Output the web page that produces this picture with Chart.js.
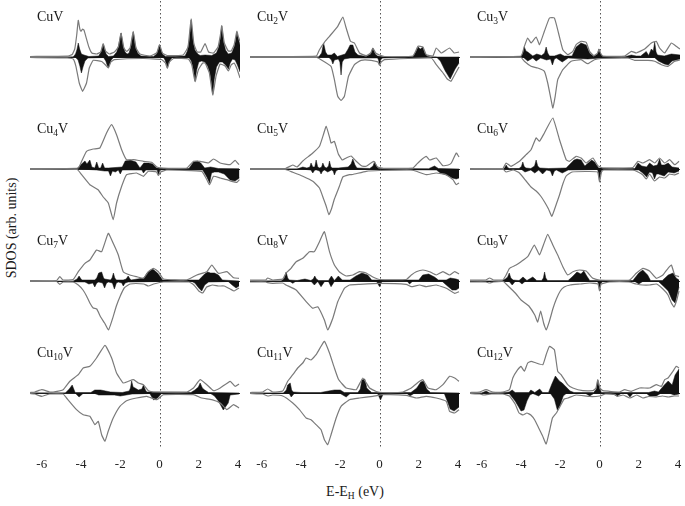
<!DOCTYPE html>
<html>
<head>
<meta charset="utf-8">
<script src="https://cdn.jsdelivr.net/npm/chart.js@4.4.1/dist/chart.umd.min.js"></script>
<style>
  html,body{margin:0;padding:0;background:#fff;}
  #wrap{position:relative;width:685px;height:506px;overflow:hidden;background:#fff;font-family:"Liberation Serif","DejaVu Serif",serif;color:#1a1a1a;}
  canvas{position:absolute;}
  .lbl{position:absolute;font-size:14px;line-height:14px;white-space:nowrap;}
  .lbl sub{font-size:9.5px;line-height:0;vertical-align:-3px;}
  #ytitle{position:absolute;left:12px;top:228px;font-size:14px;white-space:nowrap;transform:translate(-50%,-50%) rotate(-90deg);}
  #xtitle{position:absolute;left:355px;top:492px;font-size:14px;white-space:nowrap;transform:translate(-50%,-50%);}
  #xtitle sub{font-size:9.5px;line-height:0;vertical-align:-3px;}
</style>
</head>
<body>
<div id="wrap">
  <div id="ytitle">SDOS (arb. units)</div>
  <div id="xtitle">E-E<sub>H</sub> (eV)</div>
</div>
<script>
// ---------- axis / label data ----------
const energyTicks = [-6, -4, -2, 0, 2, 4];
const energyMin = -6.6, energyMax = 4.1;
const clusterSizes = [1, 2, 3, 4, 5, 6, 7, 8, 9, 10, 11, 12];

// ---------- series: [energy (eV), SDOS (arb.)]; up spin > 0, down spin < 0 ----------
const cu1_upTotal = [[-6.6,0.5],[-4.7,0.8],[-4.45,2.5],[-4.32,8],[-4.22,22],[-4.14,36.7],[-4.06,28],[-4.0,25.7],[-3.92,28],[-3.85,27],[-3.72,18],[-3.6,10],[-3.45,4],[-3.2,3],[-3.0,5],[-2.87,13.3],[-2.75,6],[-2.55,3],[-2.3,5],[-2.1,10],[-1.96,24],[-1.82,9],[-1.68,5.5],[-1.5,9],[-1.34,25.7],[-1.2,9],[-1.0,3],[-0.5,1],[-0.15,4],[0,12.3],[0.15,4],[0.4,1.5],[1.2,2],[1.45,10],[1.61,38],[1.75,13],[1.92,5],[2.1,5],[2.32,13.3],[2.5,5],[2.75,4],[2.98,10],[3.1,22],[3.17,31.3],[3.3,14],[3.5,6],[3.65,6],[3.8,12],[3.94,25.7],[4.02,20],[4.1,15.7]];
const cu1_upV = [[-6.6,0],[-4.4,0],[-4.28,3],[-4.2,8],[-4.14,14],[-4.07,8],[-3.98,3],[-3.85,2],[-3.6,0.5],[-3.1,1],[-2.98,5],[-2.92,9],[-2.87,13],[-2.8,8],[-2.72,3],[-2.6,0.5],[-2.35,1],[-2.18,5],[-2.08,12],[-1.96,24],[-1.86,12],[-1.76,5],[-1.65,3],[-1.55,4],[-1.45,11],[-1.34,25],[-1.24,12],[-1.12,4],[-0.95,1],[-0.3,0.5],[-0.15,3],[-0.07,7],[0,12],[0.07,7],[0.15,3],[0.3,0.5],[1.3,1],[1.42,6],[1.52,17],[1.61,37],[1.7,18],[1.8,7],[1.95,3],[2.07,1.5],[2.32,2],[2.66,1.5],[2.9,4],[3.02,10],[3.1,19],[3.17,31],[3.25,17],[3.36,7],[3.5,3],[3.68,4],[3.8,10],[3.88,17],[3.94,25],[4.02,18],[4.1,12]];
const cu1_downTotal = [[-6.6,-0.5],[-4.7,-0.8],[-4.4,-2],[-4.26,-9.3],[-4.09,-26],[-3.92,-34.3],[-3.72,-26],[-3.58,-11],[-3.38,-3.3],[-2.95,-4.5],[-2.75,-8],[-2.61,-11],[-2.48,-5],[-2.3,-2.7],[-0.82,-1.5],[0.1,-2.5],[0.3,-6],[0.40,-11.5],[0.5,-5],[0.71,-1.5],[1.47,-2],[1.64,-7.7],[1.81,-24.5],[1.98,-12.7],[2.2,-6],[2.32,-6],[2.54,-16],[2.71,-38],[2.88,-19],[3.09,-7],[3.34,-9],[3.51,-14],[3.65,-8],[3.8,-6],[3.95,-12],[4.1,-21]];
const cu1_downV = [[-6.6,0],[-4.3,0],[-4.15,-3],[-4.06,-9],[-3.98,-16],[-3.9,-10],[-3.8,-4],[-3.65,-1],[-2.85,-0.5],[-2.74,-4],[-2.67,-8],[-2.61,-11],[-2.54,-7],[-2.46,-3],[-2.35,-0.5],[0.2,-0.5],[0.28,-3],[0.35,-7],[0.40,-11],[0.46,-7],[0.54,-3],[0.65,-0.5],[1.5,-0.5],[1.62,-4],[1.72,-12],[1.81,-24],[1.89,-13],[2.0,-5],[2.15,-4],[2.3,-5],[2.45,-9],[2.55,-15],[2.63,-24],[2.71,-37],[2.79,-22],[2.9,-10],[3.05,-5],[3.2,-5],[3.36,-8],[3.44,-10],[3.51,-12],[3.6,-6],[3.72,-2],[3.85,-3],[3.97,-8],[4.1,-15]];

const cu2_upTotal = [[-6.6,0.5],[-3.23,0.8],[-3.06,7.3],[-2.81,14.7],[-2.55,20.7],[-2.13,30.7],[-1.87,40],[-1.70,29],[-1.48,15.7],[-1.28,14],[-1.02,4],[-0.68,1.3],[-0.45,4],[-0.34,9],[-0.2,4],[0,2],[0.26,0.5],[1.70,1],[1.96,10.7],[2.21,10],[2.38,2.3],[2.72,1],[2.89,9],[3.15,4],[3.57,9],[3.8,4],[4.05,5]];
const cu2_upV = [[-6.6,0],[-3.1,0],[-2.95,4],[-2.85,14],[-2.75,5],[-2.65,2],[-2.45,2],[-2.3,4],[-2.15,0.5],[-1.75,3],[-1.6,8],[-1.5,12],[-1.36,12],[-1.25,5],[-1.1,2],[-0.68,0.5],[-0.45,3],[-0.34,9],[-0.22,3],[-0.1,1],[0.3,0],[1.7,0.5],[1.85,5],[1.96,10],[2.08,8],[2.21,10],[2.3,4],[2.45,0.5],[2.6,0],[4.05,0]];
const cu2_downTotal = [[-6.6,-0.5],[-3.2,-0.5],[-2.98,-2.7],[-2.47,-9.3],[-2.30,-22.7],[-2.13,-39.3],[-1.96,-43.3],[-1.79,-39.3],[-1.58,-19.3],[-1.28,-7.7],[-0.94,-3.3],[-0.43,-3.3],[-0.08,-5],[0,-8.5],[0.08,-5],[0.26,-2.7],[2.64,-1],[2.89,-7.7],[3.2,-15],[3.45,-22],[3.64,-24.3],[3.85,-17],[4.05,-10]];
const cu2_downV = [[-6.6,0],[-2.6,0],[-2.45,-3],[-2.38,-7],[-2.3,-3],[-2.1,-2],[-2.02,-5],[-1.96,-18],[-1.9,-5],[-1.8,-2],[-1.5,-1],[-0.1,-1],[-0.05,-3],[0,-8],[0.05,-3],[0.15,-1],[2.9,0],[3.1,-4],[3.35,-14],[3.6,-22],[3.85,-12],[4.05,-6]];

const cu3_upTotal = [[-6.6,0.5],[-4.0,1],[-3.83,10.7],[-3.66,19],[-3.49,14],[-3.23,20],[-3.06,12.3],[-2.81,25.7],[-2.55,39],[-2.30,39],[-2.09,24],[-1.87,7.3],[-1.62,2.3],[-1.36,5.7],[-1.19,12.3],[-0.94,15.7],[-0.68,14.7],[-0.51,5.7],[-0.29,1.3],[-0.1,4],[-0.03,8],[0.05,4],[0.17,1],[1.28,1],[1.62,5.7],[1.87,4],[2.30,8],[2.64,14],[2.89,15.7],[3.06,9],[3.32,4],[3.66,14],[3.91,10.7],[4.1,8]];
const cu3_upV = [[-6.6,0],[-4.0,0.5],[-3.9,4],[-3.83,10],[-3.75,6],[-3.66,5],[-3.4,1],[-3.2,3],[-2.95,1.5],[-2.8,4],[-2.72,10],[-2.64,4],[-2.55,1],[-2.3,1],[-2.0,3],[-1.8,1],[-1.4,1],[-1.19,10],[-0.94,14],[-0.68,12],[-0.51,4],[-0.3,0.5],[-0.1,3],[-0.03,8],[0.05,3],[0.17,0.5],[1.3,0.3],[1.62,2],[1.87,1],[2.1,1],[2.38,5.5],[2.5,1.5],[2.64,8],[2.74,6],[2.81,15],[2.88,5],[2.95,2],[3.3,1],[3.66,3],[4.1,2]];
const cu3_downTotal = [[-6.6,-0.3],[-4.0,-0.5],[-3.83,-4.3],[-3.49,-9.3],[-3.15,-11],[-2.81,-14.3],[-2.64,-26],[-2.47,-42.7],[-2.38,-51],[-2.26,-39.3],[-2.13,-22.7],[-1.87,-12.7],[-1.45,-4.3],[-0.94,-2.7],[-0.60,-6.7],[-0.26,-2.7],[0.09,-1.5],[1.45,-1],[1.79,-3.3],[2.47,-3.3],[2.81,-4.3],[3.15,-7.7],[3.49,-9.3],[3.83,-4.3],[4.1,-3]];
const cu3_downV = [[-6.6,0],[-3.9,0],[-3.66,-4],[-3.4,-1],[-3.23,-4],[-3.0,-1],[-2.7,-3],[-2.5,-2],[-2.4,-8],[-2.3,-2],[-2.2,-1],[-1.9,-5],[-1.6,-1],[-0.6,-2],[0.1,-1],[2.8,-0.5],[3.0,-4],[3.3,-7],[3.5,-8],[3.7,-4],[3.9,-3],[4.1,-2]];

const cu4_upTotal = [[-6.6,0.3],[-4.14,1],[-3.97,7.7],[-3.72,17.7],[-3.38,20],[-3.04,21],[-2.70,36],[-2.44,44.3],[-2.19,34.3],[-1.93,19.3],[-1.68,9.3],[-1.33,9.3],[-0.82,7.7],[-0.40,6.7],[-0.14,2],[0.20,1],[1.39,1],[1.73,7.7],[2.07,7.7],[2.49,6],[2.75,10],[3.09,6],[3.60,4.3],[3.85,8.7],[4.05,4.3]];
const cu4_upV = [[-6.6,0],[-4.2,0.5],[-3.97,5],[-3.8,8],[-3.7,5],[-3.55,9],[-3.45,2],[-3.3,1],[-3.2,7],[-3.1,1],[-3.0,1],[-2.9,6],[-2.8,1],[-2.6,1],[-1.9,2],[-1.75,8],[-1.5,9],[-1.2,7],[-1.0,1],[-0.8,6],[-0.55,6],[-0.35,5],[-0.15,1],[0.2,0.5],[1.5,0.5],[1.73,7],[1.95,8],[2.1,6],[2.3,1],[2.6,2],[3.0,0.5],[4.05,0.3]];
const cu4_downTotal = [[-6.6,-0.5],[-4.2,-0.5],[-3.97,-5.7],[-3.55,-15.7],[-3.13,-20.7],[-2.87,-28],[-2.61,-34],[-2.36,-50.7],[-2.19,-34],[-1.93,-17.3],[-1.68,-5.7],[-1.17,-4],[-0.82,-7.3],[-0.57,-2.3],[-0.15,-3],[-0.06,-6.5],[0.05,-3],[0.37,-1],[2.15,-2.3],[2.41,-10.7],[2.55,-15.7],[2.75,-7.3],[3.09,-9],[3.43,-10.7],[3.68,-12.3],[3.94,-13.3],[4.07,-10.7]];
const cu4_downV = [[-6.6,0],[-4.0,0],[-3.2,-1],[-2.8,-2],[-2.6,-2],[-2.5,-7],[-2.4,-2],[-2.25,-3],[-2.1,-1],[-2.0,-5],[-1.9,-1],[-1.7,-1],[-0.9,-1],[-0.82,-4],[-0.7,-1],[-0.12,-1],[-0.06,-6],[0.02,-1],[0.2,-0.5],[2.2,-1],[2.41,-8],[2.55,-14],[2.65,-4],[2.8,-3],[3.0,-3],[3.3,-5],[3.6,-11],[3.85,-12],[4.07,-9]];

const cu5_upTotal = [[-6.6,0.3],[-4.8,0.5],[-4.42,4],[-4.2,2],[-3.91,8],[-3.40,16],[-3.06,22.7],[-2.85,35],[-2.72,42.7],[-2.55,32],[-2.47,26],[-2.30,27.7],[-2.1,15],[-1.9,9],[-1.70,11],[-1.45,13],[-1.2,8],[-0.9,3],[-0.68,2.7],[-0.3,7.7],[-0.1,2],[0.2,0.7],[1.7,1],[1.87,4.3],[2.13,9.3],[2.38,12.7],[2.55,9],[2.89,11],[3.23,3.3],[3.5,4],[3.66,6],[3.91,16],[4.05,12]];
const cu5_upV = [[-6.6,0],[-4.2,0],[-3.91,2],[-3.7,1],[-3.55,2],[-3.49,6],[-3.4,2],[-3.3,2],[-3.23,9],[-3.15,2],[-3.05,1],[-2.95,2],[-2.89,6],[-2.8,2],[-2.7,1],[-2.6,3],[-2.55,8],[-2.48,2],[-2.4,1],[-2.1,1],[-1.6,2],[-1.45,5],[-1.36,10],[-1.25,4],[-1.15,1],[-0.5,0.5],[-0.33,3],[-0.25,7.5],[-0.15,3],[-0.05,0.5],[2.5,0.3],[2.8,3],[3.0,0.5],[4.05,0]];
const cu5_downTotal = [[-6.6,-0.3],[-4.8,-0.5],[-4.42,-3.3],[-3.91,-7.3],[-3.40,-12.3],[-3.06,-19],[-2.85,-30],[-2.72,-37],[-2.58,-45.7],[-2.45,-40],[-2.30,-30],[-2.04,-17],[-1.87,-8],[-1.53,-5.7],[-1.36,-5.5],[-0.68,-2.3],[0,-1.5],[1.6,-1],[1.87,-2.3],[2.38,-5.7],[2.89,-4],[3.4,-5.7],[3.74,-10.7],[3.91,-15.7],[4.05,-14]];
const cu5_downV = [[-6.6,0],[-4.0,0],[-3.5,-1],[-3.4,-4],[-3.3,-1],[-3.2,-1],[-3.05,-2],[-2.98,-5],[-2.9,-2],[-2.8,-1],[-2.64,-3],[-2.45,-1],[-2.36,-2],[-2.3,-6],[-2.22,-2],[-2.1,-0.5],[0,-0.5],[2.9,-1],[3.1,-4],[3.4,-6],[3.7,-9],[3.91,-10],[4.05,-9]];

const cu6_upTotal = [[-6.6,0.3],[-4.93,0.5],[-4.76,6],[-4.51,2.7],[-4.08,7.7],[-3.74,14.3],[-3.49,19.3],[-3.23,31],[-3.06,27.7],[-2.81,36],[-2.38,51],[-2.04,29.3],[-1.70,9.3],[-1.53,7.7],[-1.19,12.7],[-0.94,11],[-0.68,6],[-0.34,11],[-0.09,3.3],[0.17,1],[1.70,1.5],[1.96,7.7],[2.21,6],[2.55,9.3],[2.81,6],[3.06,11],[3.32,6],[3.57,9.3],[3.83,4.3],[4.05,7.7]];
const cu6_upV = [[-6.6,0],[-4.9,0],[-4.82,1.5],[-4.76,4],[-4.68,1.5],[-4.6,0.5],[-4.1,0.5],[-3.98,2.5],[-3.91,7],[-3.84,2.5],[-3.75,1],[-3.5,0.5],[-3.31,3],[-3.23,9],[-3.15,3],[-3.05,1],[-2.6,0.5],[-1.7,1],[-1.5,5],[-1.3,9],[-1.15,10],[-0.94,9],[-0.75,3],[-0.4,9],[-0.25,7],[-0.05,1],[1.8,0.5],[1.96,6],[2.15,3],[2.4,2],[2.55,6],[2.75,3],[2.95,4],[3.06,10],[3.15,4],[3.3,4],[3.5,6],[3.7,2],[4.05,1]];
const cu6_downTotal = [[-6.6,-0.3],[-4.9,-0.5],[-4.76,-3],[-4.4,-1],[-4.08,-4],[-3.74,-12],[-3.49,-18],[-3.23,-22],[-3.0,-27],[-2.8,-33],[-2.6,-40],[-2.43,-47.3],[-2.2,-35],[-2.04,-26],[-1.87,-15],[-1.7,-7],[-1.4,-3],[-0.7,-2.5],[-0.1,-3],[0,-13],[0.1,-3],[0.2,-1],[1.7,-1],[1.96,-3],[2.21,-6],[2.38,-10],[2.55,-5],[2.8,-12],[3.06,-8],[3.32,-9],[3.57,-5],[3.8,-6],[4.05,-4]];
const cu6_downV = [[-6.6,0],[-4.0,0],[-3.8,-3],[-3.5,-1],[-3.3,-4],[-3.1,-1],[-2.9,-5],[-2.7,-1],[-2.5,-2],[-2.4,-7],[-2.3,-2],[-2.2,-1],[-1.9,-4],[-1.6,-1],[-0.1,-0.5],[-0.05,-4],[0,-12],[0.05,-4],[0.12,-0.5],[2.0,-1],[2.2,-4],[2.4,-8],[2.55,-3],[2.7,-4],[2.8,-10],[2.9,-5],[3.0,-5],[3.3,-7],[3.5,-3],[3.8,-4],[4.05,-2]];

const cu7_upTotal = [[-6.6,0.3],[-5.25,0.5],[-5.08,4.3],[-4.91,1],[-4.40,1.5],[-4.14,9.3],[-3.80,17.7],[-3.55,21],[-3.21,31],[-2.95,29.3],[-2.61,47.7],[-2.36,37.7],[-2.10,26],[-1.85,9.3],[-1.51,6],[-1.17,4.3],[-0.82,2.7],[-0.57,9.3],[-0.31,12.7],[-0.06,9.3],[0.20,2],[1.39,1],[1.90,6],[2.41,9.3],[2.66,16],[3.00,7.7],[3.43,9.3],[3.77,3.3],[4.05,2.7]];
const cu7_upV = [[-6.6,0],[-4.4,0],[-4.2,2],[-4.1,5],[-4.0,2],[-3.95,1],[-3.3,1],[-3.2,3],[-3.1,8],[-2.95,9],[-2.85,3],[-2.8,2],[-2.5,1],[-2.42,3],[-2.35,8],[-2.28,3],[-2.2,1],[-1.85,1],[-1.7,2],[-1.6,5],[-1.5,2],[-1.45,1],[-0.8,3],[-0.6,9],[-0.35,12],[-0.1,8],[0.15,1],[2.0,1],[2.3,7],[2.45,9],[2.6,8],[2.8,8],[3.0,6],[3.2,1],[4.05,0]];
const cu7_downTotal = [[-6.6,-0.3],[-5.25,-0.5],[-5.08,-3.3],[-4.91,-1],[-4.4,-1],[-4.14,-4],[-3.90,-9],[-3.72,-15],[-3.55,-22],[-3.38,-27],[-3.2,-28],[-3.0,-36],[-2.8,-42],[-2.6,-49],[-2.4,-38],[-2.2,-25],[-2.0,-15],[-1.8,-7],[-1.5,-3],[-1.2,-2.5],[-0.8,-3],[-0.57,-5],[-0.3,-3],[0.2,-1],[1.5,-1],[1.75,-4],[2.0,-10],[2.2,-12],[2.4,-6],[2.7,-4],[3.0,-5],[3.3,-5],[3.6,-8],[3.8,-10],[4.05,-7]];
const cu7_downV = [[-6.6,0],[-3.8,-1],[-3.6,-3],[-3.4,-2],[-3.3,-6],[-3.2,-2],[-3.1,-1],[-2.9,-2],[-2.8,-7],[-2.7,-2],[-2.6,-1],[-2.4,-2],[-2.3,-8],[-2.2,-2],[-2.1,-1],[-1.92,-2],[-1.85,-5],[-1.75,-2],[-1.6,-1],[1.6,0],[1.8,-2],[2.0,-7],[2.15,-10],[2.3,-4],[2.5,-1],[3.5,-0.5],[3.7,-4],[3.9,-7],[4.05,-5]];

const cu8_upTotal = [[-6.6,1],[-5.8,1],[-5.7,3],[-5.44,1],[-4.93,2],[-4.76,8],[-4.51,12.7],[-4.25,19.3],[-3.91,22.7],[-3.57,29.3],[-3.32,29.3],[-3.06,39.3],[-2.81,49.3],[-2.55,29.3],[-2.30,16],[-2.04,9],[-1.70,5],[-1.36,6],[-1.02,9.3],[-0.68,8],[-0.34,4],[0,1.5],[1.36,1.5],[1.62,6],[1.87,9.3],[2.21,11],[2.55,9.3],[2.89,6],[3.23,9.3],[3.57,6],[3.83,9.3],[4.05,7]];
const cu8_upV = [[-6.6,0],[-5.0,0],[-4.85,3],[-4.76,9],[-4.68,3],[-4.6,1],[-4.2,0.5],[-3.8,2],[-3.5,0.5],[-3.38,2],[-3.3,5],[-3.22,2],[-3.1,0.5],[-2.6,0.5],[-2.45,5],[-2.3,0.5],[-2.1,5],[-1.9,1],[-1.5,1],[-1.2,5],[-0.9,8],[-0.6,6],[-0.4,1],[2.0,1],[2.2,6],[2.5,7],[2.8,4],[3.0,1],[3.4,1],[3.6,3],[3.9,2],[4.05,1]];
const cu8_downTotal = [[-6.6,-1],[-5.8,-1],[-5.7,-1.7],[-5.44,-2.3],[-4.93,-2],[-4.76,-4],[-4.25,-9],[-3.74,-20.7],[-3.40,-27.3],[-3.15,-25.7],[-2.81,-39],[-2.64,-49],[-2.38,-37.3],[-2.13,-20.7],[-1.79,-7.3],[-1.53,-4],[-1.02,-3.3],[0,-2.3],[1.36,-3.3],[1.62,-5.7],[2.04,-4],[2.38,-5.7],[2.89,-4],[3.40,-7.3],[3.83,-12.3],[4.05,-10.7]];
const cu8_downV = [[-6.6,0],[-4.6,0],[-4.42,-2.3],[-4.25,0],[-3.5,0],[-3.32,-4],[-3.15,-0.5],[-2.98,-5.7],[-2.8,-0.5],[-2.6,-0.5],[-2.47,-5.7],[-2.3,-0.5],[-0.15,-0.5],[0,-5.7],[0.12,-0.5],[1.4,0],[1.53,-3],[1.7,0],[3.2,-0.5],[3.4,-4],[3.7,-9],[3.9,-9],[4.05,-7]];

const cu9_upTotal = [[-6.6,1],[-5.8,1],[-5.6,3],[-5.4,1],[-4.93,1],[-4.76,6],[-4.59,12.7],[-4.25,16],[-4.0,19.3],[-3.66,24.3],[-3.32,36],[-3.06,26],[-2.86,36],[-2.64,46.7],[-2.38,36],[-2.13,26],[-1.87,14.3],[-1.62,6],[-1.36,9.3],[-1.02,11],[-0.68,10],[-0.34,2.7],[0,1],[1.53,1],[1.87,7.7],[2.21,12.7],[2.55,10],[2.89,2.7],[3.23,6],[3.49,12.7],[3.66,16],[3.83,6],[4.05,4.3]];
const cu9_upV = [[-6.6,0],[-5.0,0],[-4.8,2],[-4.68,4],[-4.6,8],[-4.52,3],[-4.4,1],[-4.1,0.5],[-3.9,4],[-3.7,0.5],[-3.4,4],[-3.2,0.5],[-2.95,0.5],[-2.86,3],[-2.8,9],[-2.74,3],[-2.65,0.5],[-1.6,0.5],[-1.4,4],[-1.15,9],[-0.95,7],[-0.8,10],[-0.65,5],[-0.5,0.5],[1.7,0.5],[2.0,8],[2.2,11],[2.45,6],[2.6,0.5],[3.2,0.5],[3.5,6],[3.75,8],[3.9,3],[4.05,1]];
const cu9_downTotal = [[-6.6,-1],[-5.8,-1],[-5.6,-2],[-5.4,-1],[-4.9,-0.5],[-4.76,-3],[-4.5,-8],[-4.25,-13],[-4.0,-19],[-3.8,-22],[-3.6,-25],[-3.3,-34],[-3.15,-41],[-3.0,-30],[-2.85,-42],[-2.72,-49],[-2.55,-40],[-2.38,-28],[-2.2,-18],[-2.0,-10],[-1.8,-6],[-1.5,-4],[-1.0,-3],[-0.5,-2],[-0.08,-3],[0,-10],[0.08,-3],[0.5,-1],[1.5,-1],[1.87,-3],[2.2,-4],[2.55,-4],[2.9,-3],[3.23,-8],[3.49,-14],[3.66,-22],[3.8,-26],[3.95,-18],[4.05,-10]];
const cu9_downV = [[-6.6,0],[-4.6,-0.5],[-4.45,-4],[-4.3,-0.5],[-4.1,-0.5],[-3.95,-3],[-3.8,-0.5],[-0.1,-0.5],[-0.05,-3],[0,-9],[0.05,-3],[0.15,-0.5],[1.8,-0.5],[2.0,-3],[2.2,-0.5],[3.0,-0.5],[3.3,-6],[3.5,-10],[3.7,-19],[3.85,-22],[3.95,-14],[4.05,-6]];

const cu10_upTotal = [[-6.6,0.5],[-6.35,1],[-6.0,3.3],[-5.6,1],[-5.42,1],[-4.91,3.3],[-4.57,11.7],[-4.14,18.3],[-3.89,25],[-3.55,26.7],[-3.21,35],[-2.78,47.7],[-2.44,35],[-2.19,20],[-1.85,10],[-1.59,11.7],[-1.33,13.3],[-1.08,10],[-0.82,8.3],[-0.57,2.3],[-0.31,1],[1.39,1],[1.73,5],[2.07,13.3],[2.41,8.3],[2.75,2.3],[3.09,5],[3.60,11.7],[3.85,6.7],[4.05,9]];
const cu10_upV = [[-6.6,0],[-4.8,0],[-4.6,4],[-4.45,8],[-4.3,0.5],[-3.5,0.5],[-3.3,3],[-3.0,3],[-2.5,1],[-1.9,0.5],[-1.55,2],[-1.48,5],[-1.42,12],[-1.35,6],[-1.25,5],[-1.08,3],[-0.9,4],[-0.82,8],[-0.72,3],[-0.65,1],[1.6,0.5],[1.8,3],[1.98,6],[2.07,10],[2.18,5],[2.3,3],[2.5,0.5],[4.05,0]];
const cu10_downTotal = [[-6.6,-0.5],[-6.35,-1],[-6.0,-3.3],[-5.6,-1],[-4.91,-1],[-4.74,-5],[-4.23,-16.7],[-3.89,-21.7],[-3.55,-23.3],[-3.29,-31.7],[-3.12,-28.3],[-2.95,-41.7],[-2.78,-48.3],[-2.61,-38],[-2.36,-25],[-2.02,-13.3],[-1.68,-7.7],[-1.17,-5],[-0.65,-3.3],[-0.14,-6.7],[0.2,-1.7],[1.73,-1.7],[2.15,-5],[2.66,-6.7],[3.09,-10],[3.43,-16.7],[3.77,-11.7],[4.05,-15]];
const cu10_downV = [[-6.6,0],[-4.3,0],[-4.1,-4],[-3.9,-0.5],[-3.3,-0.5],[-3.1,-2],[-2.3,-2],[-2.0,-3],[-1.7,-2],[-1.4,-1],[-0.5,-0.5],[-0.3,-7],[-0.1,-5],[0.1,-0.5],[2.6,-0.5],[2.8,-3],[3.0,-8],[3.25,-17],[3.5,-10],[3.6,-2],[4.05,-1]];

const cu11_upTotal = [[-6.6,0.5],[-5.95,1],[-5.7,4],[-5.44,1],[-4.93,2],[-4.68,11.7],[-4.42,18.3],[-4.17,25],[-3.91,30],[-3.74,35],[-3.49,33],[-3.23,38.3],[-2.98,46.7],[-2.81,51.7],[-2.55,40],[-2.30,25],[-2.1,14],[-1.9,9],[-1.70,5],[-1.19,3.3],[-0.85,15],[-0.51,5],[-0.17,1.5],[0.17,0.5],[1.19,1],[1.62,5],[2.04,11.7],[2.21,13.3],[2.47,5],[2.89,3.3],[3.23,8.3],[3.57,16.7],[3.83,15],[4.05,11.7]];
const cu11_upV = [[-6.6,0],[-4.9,0],[-4.75,3],[-4.68,8],[-4.55,10],[-4.48,3],[-4.4,1],[-4.0,0.5],[-3.0,0.5],[-2.6,2],[-2.3,3],[-2.0,3],[-1.8,0.5],[-1.1,0.5],[-0.98,4],[-0.9,13],[-0.75,14],[-0.65,5],[-0.55,3],[-0.4,0.5],[1.6,0.5],[1.9,5],[2.1,11],[2.25,12],[2.4,4],[2.6,0.5],[4.05,0]];
const cu11_downTotal = [[-6.6,-0.5],[-5.95,-1],[-5.7,-3],[-5.44,-2],[-4.93,-3],[-4.42,-10],[-4.08,-16.7],[-3.74,-25],[-3.49,-26.7],[-3.23,-31.7],[-2.98,-36.7],[-2.81,-46.7],[-2.64,-51.7],[-2.47,-41.7],[-2.21,-25],[-1.96,-13.3],[-1.53,-6.7],[-1.02,-5],[-0.34,-3.3],[0.17,-1.7],[1.36,-2.3],[1.87,-5],[2.38,-3.3],[2.89,-5],[3.40,-8.3],[3.57,-18.3],[3.83,-20],[4.05,-16.7]];
const cu11_downV = [[-6.6,0],[-4.6,-0.5],[-4.5,-4],[-4.35,-0.5],[-2.0,-0.5],[-1.7,-4],[-1.5,-0.5],[-0.1,-0.5],[0.05,-7],[0.2,-0.5],[1.4,-0.5],[1.55,-3],[1.75,-0.5],[3.3,-0.5],[3.45,-8],[3.6,-16],[3.8,-18],[4.05,-14]];

const cu12_upTotal = [[-6.6,0.5],[-6.12,1],[-5.78,3.3],[-5.44,1],[-4.93,1],[-4.59,3.3],[-4.42,15],[-4.17,23.3],[-4.0,26.7],[-3.83,21.7],[-3.66,30],[-3.49,31.7],[-3.23,30],[-2.89,28.3],[-2.72,38.3],[-2.55,46.7],[-2.30,43.3],[-2.13,21.7],[-1.96,18.3],[-1.62,8.3],[-1.36,5],[-0.85,2.3],[-0.34,2.3],[-0.18,5],[-0.09,13.3],[0.02,5],[0.17,2.3],[1.02,1],[1.28,3.3],[1.62,1.7],[2.04,5],[2.55,5],[2.89,8.3],[3.15,6.7],[3.32,13.3],[3.49,15],[3.74,21.7],[3.91,26.7],[4.05,25]];
const cu12_upV = [[-6.6,0],[-6.0,0],[-5.78,2],[-5.6,0],[-4.8,0.5],[-4.6,1],[-4.45,3],[-4.3,0.5],[-3.6,0.5],[-3.5,3],[-3.3,0.5],[-3.05,4],[-2.9,0.5],[-2.6,0.5],[-2.45,8],[-2.25,17],[-2.05,12],[-1.9,10],[-1.7,6],[-1.5,2],[-1.3,0.5],[-0.3,0.5],[-0.16,4],[-0.09,13],[0,4],[0.1,0.5],[2.5,0.5],[2.8,2],[3.0,1],[3.3,8],[3.5,12],[3.7,8],[3.85,18],[4.05,24]];
const cu12_downTotal = [[-6.6,-0.5],[-6.1,-1],[-5.9,-2],[-5.5,-1],[-4.93,-1],[-4.59,-3],[-4.3,-11],[-4.1,-20],[-3.9,-22],[-3.7,-20],[-3.5,-22],[-3.3,-27],[-3.1,-35],[-2.9,-43],[-2.72,-51],[-2.55,-38],[-2.4,-25],[-2.2,-20],[-2.0,-13],[-1.8,-6],[-1.6,-5],[-1.2,-2],[-0.5,-3.5],[0,-3],[0.3,-1],[0.8,-1.5],[0.9,-3.5],[1.2,-2],[1.55,-5],[1.9,-2],[2.2,-5],[2.5,-3.5],[2.9,-4],[3.2,-3],[3.5,-4],[3.8,-3],[4.05,-3]];
const cu12_downV = [[-6.6,0],[-4.6,-0.5],[-4.3,-8],[-4.0,-18],[-3.85,-17],[-3.7,-8],[-3.55,-2],[-3.4,-0.5],[-3.1,-3],[-2.95,-0.5],[-2.5,-0.5],[-2.3,-6],[-2.15,-17],[-2.0,-12],[-1.85,-3],[-1.7,-0.5],[-0.7,-0.5],[-0.5,-3],[-0.3,-0.5],[0.6,-0.5],[0.9,-3],[1.1,-0.5],[1.4,-0.5],[1.55,-4],[1.7,-0.5],[2.4,-0.5],[2.55,-3],[2.9,-3],[3.1,-0.5],[3.6,-0.5],[3.8,-2],[4.05,-1]];

const upTotals   = [cu1_upTotal, cu2_upTotal, cu3_upTotal, cu4_upTotal, cu5_upTotal, cu6_upTotal, cu7_upTotal, cu8_upTotal, cu9_upTotal, cu10_upTotal, cu11_upTotal, cu12_upTotal];
const upV        = [cu1_upV, cu2_upV, cu3_upV, cu4_upV, cu5_upV, cu6_upV, cu7_upV, cu8_upV, cu9_upV, cu10_upV, cu11_upV, cu12_upV];
const downTotals = [cu1_downTotal, cu2_downTotal, cu3_downTotal, cu4_downTotal, cu5_downTotal, cu6_downTotal, cu7_downTotal, cu8_downTotal, cu9_downTotal, cu10_downTotal, cu11_downTotal, cu12_downTotal];
const downV      = [cu1_downV, cu2_downV, cu3_downV, cu4_downV, cu5_downV, cu6_downV, cu7_downV, cu8_downV, cu9_downV, cu10_downV, cu11_downV, cu12_downV];

// ---------- layout ----------
const PANEL_W = 210, PANEL_H = 112, COL_X0 = 30, COL_STEP = 220, ROW_Y0 = 1, ROW_STEP = 112;
const SERIF = '"Liberation Serif","DejaVu Serif",serif';

const zeroLines = {
  id: 'zeroLines',
  beforeDatasetsDraw(chart) {
    const {ctx, chartArea, scales} = chart;
    const x = scales.x, y = scales.y;
    ctx.save();
    const y0 = Math.round(y.getPixelForValue(0)) + 0.5;
    ctx.strokeStyle = '#2a2a2a';
    ctx.lineWidth = 1.2;
    ctx.beginPath(); ctx.moveTo(chartArea.left, y0); ctx.lineTo(chartArea.right, y0); ctx.stroke();
    const x0 = Math.round(x.getPixelForValue(0)) + 0.5;
    ctx.setLineDash([1.5, 2.5]);
    ctx.strokeStyle = '#555';
    ctx.lineWidth = 1;
    ctx.beginPath(); ctx.moveTo(x0, chartArea.top); ctx.lineTo(x0, chartArea.bottom); ctx.stroke();
    ctx.restore();
  }
};

const toXY = arr => arr.map(p => ({x: p[0], y: p[1]}));
const wrap = document.getElementById('wrap');

clusterSizes.forEach((n, i) => {
  const col = i % 3, row = Math.floor(i / 3);
  const cv = document.createElement('canvas');
  cv.width = PANEL_W; cv.height = PANEL_H;
  cv.style.left = (COL_X0 + col * COL_STEP) + 'px';
  cv.style.top = (ROW_Y0 + row * ROW_STEP) + 'px';
  cv.style.width = PANEL_W + 'px'; cv.style.height = PANEL_H + 'px';
  wrap.appendChild(cv);

  const outline = data => ({data: toXY(data), borderColor: '#7a7a7a', borderWidth: 1.2, fill: false, pointRadius: 0, tension: 0.12});
  const filled = data => ({data: toXY(data), borderColor: '#111', backgroundColor: '#111', borderWidth: 0.5, fill: 'origin', pointRadius: 0, tension: 0});

  new Chart(cv, {
    type: 'line',
    data: {datasets: [outline(upTotals[i]), outline(downTotals[i]), filled(upV[i]), filled(downV[i])]},
    options: {
      responsive: false, animation: false, devicePixelRatio: 1,
      layout: {padding: 0},
      plugins: {legend: {display: false}, tooltip: {enabled: false}},
      scales: {
        x: {type: 'linear', min: energyMin, max: energyMax, display: false},
        y: {type: 'linear', min: -56, max: 56, display: false}
      }
    },
    plugins: [zeroLines]
  });

  const lab = document.createElement('div');
  lab.className = 'lbl';
  lab.innerHTML = n === 1 ? 'CuV' : 'Cu<sub>' + n + '</sub>V';
  lab.style.left = (37 + col * COL_STEP) + 'px';
  lab.style.top = (ROW_Y0 + row * ROW_STEP + 9) + 'px';
  wrap.appendChild(lab);
});

// bottom energy axes, one per column (labels drawn by the x scale)
for (let col = 0; col < 3; col++) {
  const cv = document.createElement('canvas');
  cv.width = PANEL_W + 20; cv.height = 30;
  cv.style.left = (COL_X0 - 10 + col * COL_STEP) + 'px';
  cv.style.top = '457px';
  cv.style.width = (PANEL_W + 20) + 'px'; cv.style.height = '30px';
  wrap.appendChild(cv);
  new Chart(cv, {
    type: 'line',
    data: {datasets: []},
    options: {
      responsive: false, animation: false, devicePixelRatio: 1,
      layout: {padding: {left: 10, right: 10}},
      plugins: {legend: {display: false}, tooltip: {enabled: false}},
      scales: {
        x: {
          type: 'linear', position: 'top', min: energyMin, max: energyMax,
          afterBuildTicks: s => { s.ticks = energyTicks.map(v => ({value: v})); },
          grid: {display: false, drawTicks: false}, border: {display: false},
          ticks: {autoSkip: false, maxRotation: 0, padding: 0, color: '#222', font: {family: SERIF, size: 13}}
        },
        y: {display: false, min: 0, max: 1}
      }
    }
  });
}
</script>
</body>
</html>
